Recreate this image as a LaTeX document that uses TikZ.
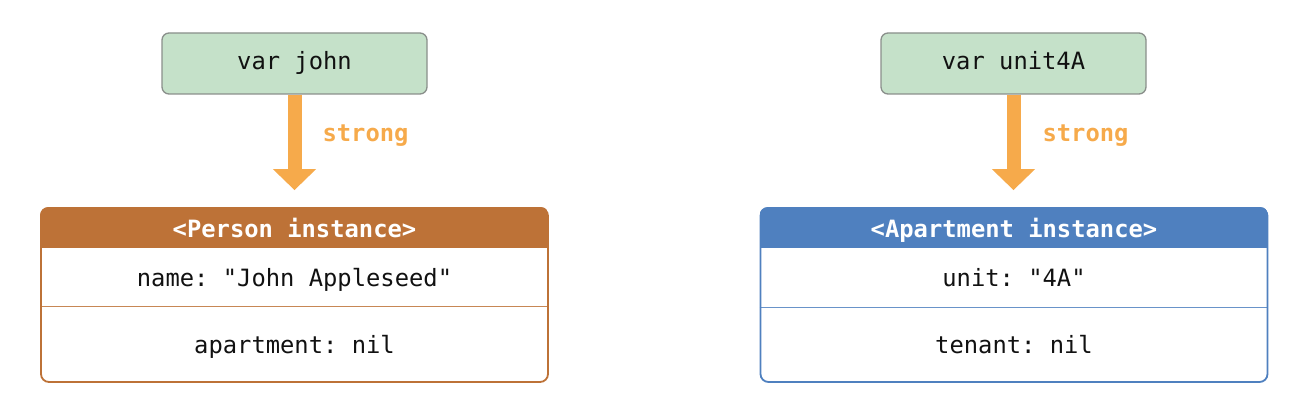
\documentclass[tikz,border=0pt]{standalone}
\usepackage{fontspec}
\setmonofont{DejaVu Sans Mono}
\usetikzlibrary{arrows.meta}
\definecolor{varfill}{HTML}{C5E1C9}
\definecolor{vardraw}{HTML}{8A8F8B}
\definecolor{orng}{HTML}{F6AA4B}
\definecolor{pbrown}{HTML}{BD7237}
\definecolor{ablue}{HTML}{4F80BF}
\definecolor{txt}{HTML}{111111}
\tikzset{
  vartxt/.style={font=\ttfamily\fontsize{23.8}{28}\selectfont, text=txt, text height=17pt, text depth=5pt},
  varbox/.style={draw=vardraw, fill=varfill, line width=1.3pt, rounded corners=7pt,
    minimum width=265pt, minimum height=61pt, vartxt},
  instbox/.style={line width=1.8pt, rounded corners=8pt, minimum width=507pt, minimum height=174pt},
  hdrtxt/.style={font=\ttfamily\bfseries\fontsize{23.8}{28}\selectfont, text=white, text height=17pt, text depth=5pt},
  fieldtxt/.style={vartxt},
  strongarrow/.style={draw=orng, line width=14pt, shorten >=17pt,
    -{Triangle[width=42pt,length=21pt]}},
  stronglbl/.style={font=\ttfamily\bfseries\fontsize{23.8}{28}\selectfont, text=orng, anchor=west, text height=17pt, text depth=5pt},
}
\begin{document}
\begin{tikzpicture}[x=1pt,y=-1pt]
\useasboundingbox (0,0) rectangle (1304,414);
% top variable boxes
\node[varbox] (john) at (294.5,63.5) {var john};
\node[varbox] (unit) at (1013.5,63.5) {var unit4A};
% Person instance
\node[instbox] (person) at (294.5,295) {};
\begin{scope}
  \clip[rounded corners=8pt] (person.north west) rectangle (person.south east);
  \fill[pbrown] (person.north west) rectangle ++(507,41);
  \draw[pbrown!85, line width=1.2pt] ([yshift=-99pt]person.north west) -- ([yshift=-99pt]person.north east);
\end{scope}
\node[instbox, draw=pbrown] at (person.center) {};
\node[hdrtxt] (phdr) at (294.5,231.5) {<Person instance>};
\node[fieldtxt] (pname) at (294.5,280) {name: "John Appleseed"};
\node[fieldtxt] (papt) at (294.5,347) {apartment: nil};
% Apartment instance
\node[instbox] (apt) at (1014,295) {};
\begin{scope}
  \clip[rounded corners=8pt] (apt.north west) rectangle (apt.south east);
  \fill[ablue] (apt.north west) rectangle ++(507,41);
  \draw[ablue!85, line width=1.2pt] ([yshift=-100pt]apt.north west) -- ([yshift=-100pt]apt.north east);
\end{scope}
\node[instbox, draw=ablue] at (apt.center) {};
\node[hdrtxt] (ahdr) at (1014,231.5) {<Apartment instance>};
\node[fieldtxt] (aunit) at (1014,280) {unit: "4A"};
\node[fieldtxt] (aten) at (1014,347) {tenant: nil};
% strong arrows
\draw[strongarrow] (john.south) -- (john.south |- person.north);
\node[stronglbl] (s1) at (319,135.5) {strong};
\draw[strongarrow] (unit.south) -- (unit.south |- apt.north);
\node[stronglbl] (s2) at (1039,135.5) {strong};
\end{tikzpicture}
\end{document}
